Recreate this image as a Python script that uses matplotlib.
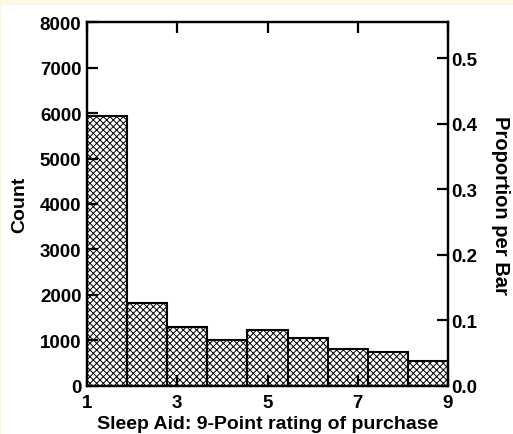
import matplotlib.pyplot as plt
from matplotlib import rc
from matplotlib.patches import Rectangle
import numpy as np

rc('font', **{'family': 'Liberation Sans', 'weight': 'bold', 'size': 13.5})
rc('axes', labelweight='bold')
rc('hatch', linewidth=0.7)

# histogram of ratings, 9 bins between 1 and 9
bin_edges = np.linspace(1, 9, 10)
counts = [5930, 1820, 1292, 1006, 1226, 1057, 814, 735, 544]
x_ticks = [1, 3, 5, 7, 9]
y_ticks = [0, 1000, 2000, 3000, 4000, 5000, 6000, 7000, 8000]
prop_ticks = [0.0, 0.1, 0.2, 0.3, 0.4, 0.5]

total = sum(counts)

fig = plt.figure(figsize=(5.13, 4.35), dpi=100)
fig.patch.set_facecolor('white')
# cream strip along the top and left edge
fig.patches.append(Rectangle((0, 1 - 6 / 435), 1, 6 / 435, transform=fig.transFigure,
                             facecolor='#fdf8e6', edgecolor='none', zorder=0))
fig.patches.append(Rectangle((0, 0), 2 / 513, 1, transform=fig.transFigure,
                             facecolor='#fdf8e6', edgecolor='none', zorder=0))

ax = fig.add_axes([87 / 513, 1 - 386.7 / 435, (448 - 87) / 513, (386.7 - 23.3) / 435])
ax.bar(bin_edges[:-1], counts, width=np.diff(bin_edges), align='edge',
       facecolor='white', edgecolor='black', linewidth=1.5, hatch='xxxxx')

ax.set_xlim(1, 9)
ax.set_ylim(0, 8000)
ax.set_xticks(x_ticks)
ax.set_yticks(y_ticks)
ax.set_xlabel('Sleep Aid: 9-Point rating of purchase', fontsize=14, labelpad=3)
ax.set_ylabel('Count', fontsize=14, labelpad=8)
for s in ax.spines.values():
    s.set_linewidth(1.6)
ax.tick_params(direction='in', length=8, width=1.6, top=True, pad=4)
ax.tick_params(axis='x', pad=6)

ax2 = ax.twinx()
ax2.set_ylim(0, 8000 / total)
ax2.set_yticks(prop_ticks)
ax2.set_yticklabels([f'{v:.1f}' for v in prop_ticks])
ax2.tick_params(direction='in', length=8, width=1.6, pad=2)
ax2.set_ylabel('Proportion per Bar', fontsize=14.5, rotation=270, labelpad=24)
for s in ax2.spines.values():
    s.set_linewidth(1.6)

fig.savefig('out.png', dpi=100, facecolor=fig.get_facecolor())
